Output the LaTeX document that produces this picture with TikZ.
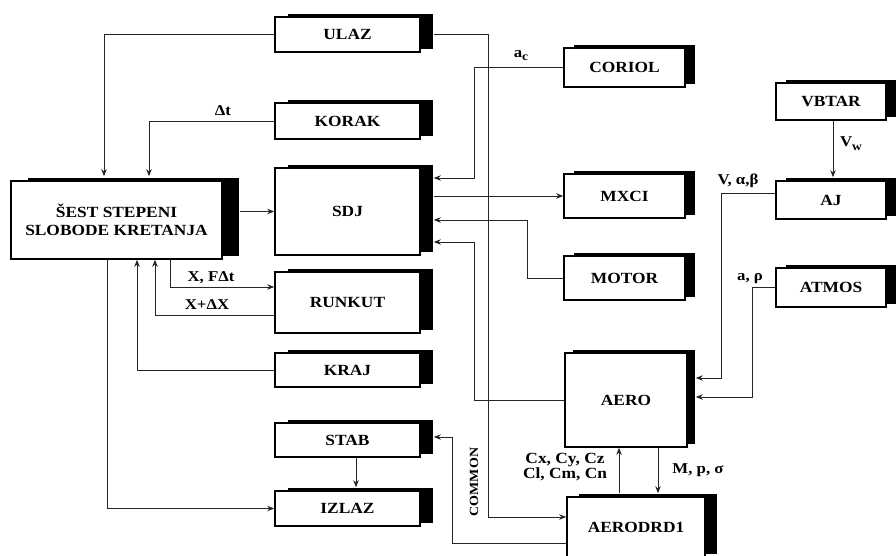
\documentclass[tikz,border=0pt]{standalone}
\usepackage{fontspec}
\setmainfont{Liberation Serif}[FakeStretch=1.12]
\usetikzlibrary{shadows,arrows.meta,calc}
\begin{document}
\begin{tikzpicture}[x=1pt,y=-1pt,
  blk/.style={draw=black, line width=1.6pt, fill=white, inner sep=0pt, align=center,
    font=\fontsize{15.5}{18}\selectfont\bfseries,
    general shadow={fill=black, shadow xshift=#1, shadow yshift=3.5pt}},
  blk/.default=13pt,
  ln/.style={line width=0.9pt, draw=black!85},
  arr/.style={ln, -{Stealth[length=7pt,width=5.5pt]}},
  lbl/.style={font=\fontsize{15}{16}\selectfont\bfseries, inner sep=0pt, align=center}]
\useasboundingbox (0,0) rectangle (896,555);
\clip (0,0) rectangle (896,555);

% blocks
\node[blk, minimum width=145pt, minimum height=35pt] (ulaz) at (347.5,34.5) {ULAZ};
\node[blk, minimum width=145pt, minimum height=36pt] (korak) at (347.5,121) {KORAK};
\node[blk, minimum width=145pt, minimum height=87pt] (sdj) at (347.5,211.5) {SDJ};
\node[blk, minimum width=145pt, minimum height=61pt] (runkut) at (347.5,302.5) {RUNKUT};
\node[blk, minimum width=145pt, minimum height=34pt] (kraj) at (347.5,370) {KRAJ};
\node[blk, minimum width=145pt, minimum height=34pt] (stab) at (347.5,440) {STAB};
\node[blk, minimum width=145pt, minimum height=35pt] (izlaz) at (347.5,508.5) {IZLAZ};
\node[blk=17pt, minimum width=211pt, minimum height=78pt] (sest) at (116.5,220) {ŠEST STEPENI\\SLOBODE KRETANJA};
\node[blk=10pt, minimum width=121pt, minimum height=39pt] (coriol) at (624.5,67.5) {CORIOL};
\node[blk=10pt, minimum width=121pt, minimum height=44pt] (mxci) at (624.5,196) {MXCI};
\node[blk=10pt, minimum width=121pt, minimum height=44pt] (motor) at (624.5,278) {MOTOR};
\node[blk=8pt, minimum width=122pt, minimum height=94pt] (aero) at (626,400) {AERO};
\node[blk=12pt, minimum width=138pt, minimum height=60pt] (aerodrd) at (636,527) {AERODRD1};
\node[blk=10pt, minimum width=110pt, minimum height=37pt] (vbtar) at (831,101.5) {VBTAR};
\node[blk=10pt, minimum width=110pt, minimum height=38pt] (aj) at (831,200) {AJ};
\node[blk=10pt, minimum width=110pt, minimum height=39pt] (atmos) at (831,287.5) {ATMOS};

% connectors
\draw[arr] (ulaz.west) -| ($(sest.north -| 104,0)+(0,-4)$);
\draw[arr] (korak.west) -| ($(sest.north -| 149,0)+(0,-4)$);
\draw[arr] ($(ulaz.east)+(13,0)$) -| (488,517) -- (aerodrd.west |- 0,517);
\draw[arr] (coriol.west) -| (474,178) -- ($(sdj.east |- 0,178)+(13,0)$);
\draw[arr] ($(sest.east |- sdj.west)+(17,0)$) -- (sdj.west);
\draw[arr] ($(sdj.east |- mxci.west)+(13,0)$) -- (mxci.west);
\draw[arr] (motor.west) -| (527,220) -- ($(sdj.east |- 0,220)+(13,0)$);
\draw[arr] (aero.west) -| (474,242) -- ($(sdj.east |- 0,242)+(13,0)$);
\draw[arr] (sest.south -| 170,0) |- (runkut.west |- 0,287);
\draw[arr] (runkut.west |- 0,315) -| (sest.south -| 155,0);
\draw[arr] (kraj.west) -| (sest.south -| 137,0);
\draw[arr] (sest.south -| 107,0) |- (izlaz.west);
\draw[arr] (stab.south -| 356,0) -- ($(izlaz.north -| 356,0)+(0,-3)$);
\draw[arr] (aerodrd.west |- 0,543) -| (452,437) -- ($(stab.east |- 0,437)+(13,0)$);
\draw[arr] ($(aerodrd.north -| 619,0)+(0,-3)$) -- (aero.south -| 619,0);
\draw[arr] (aero.south -| 658,0) -- ($(aerodrd.north -| 658,0)+(0,-3)$);
\draw[arr] (vbtar.south -| 833,0) -- ($(aj.north -| 833,0)+(0,-3)$);
\draw[arr] (aj.west |- 0,193) -| (721,378) -- ($(aero.east |- 0,378)+(8,0)$);
\draw[arr] (atmos.west) -| (752,397) -- ($(aero.east |- 0,397)+(8,0)$);

% labels
\node[lbl] (ldt) at (223,111) {Δt};
\node[lbl] (lac) at (521,56) {a\raisebox{-3pt}{\fontsize{12}{12}\selectfont c}};
\node[lbl] (lxf) at (211,278) {X, FΔt};
\node[lbl] (lxdx) at (207,305) {X+ΔX};
\node[lbl] (lvab) at (738,181) {V, α,β};
\node[lbl] (lar) at (750,279) {a, ρ};
\node[lbl] (lvw) at (851,144) {V\raisebox{-4pt}{\fontsize{12}{12}\selectfont w}};
\node[lbl, font=\fontsize{15.5}{15}\selectfont\bfseries] (lcx) at (565,467) {Cx, Cy, Cz\\Cl, Cm, Cn};
\node[lbl] (lmps) at (698,470) {M, p, σ};
\node[lbl, rotate=90, font=\fontsize{12.5}{14}\selectfont\bfseries] (lcom) at (474,482) {COMMON};
\end{tikzpicture}
\end{document}
